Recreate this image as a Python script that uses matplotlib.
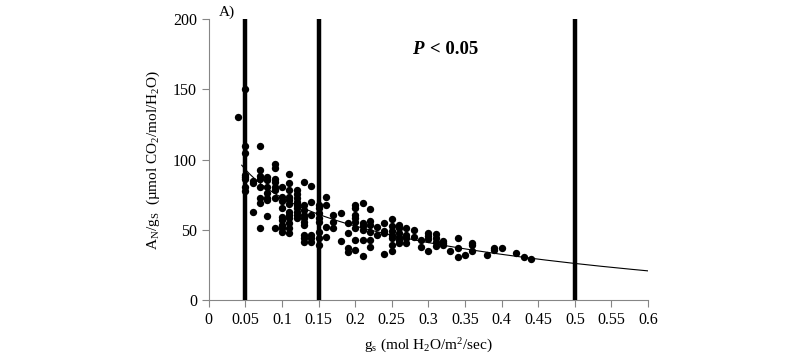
import numpy as np
import matplotlib
matplotlib.use('Agg')
import matplotlib.pyplot as plt

plt.rcParams['font.family'] = ['Liberation Serif', 'DejaVu Serif']
plt.rcParams['mathtext.fontset'] = 'custom'
plt.rcParams['mathtext.rm'] = 'Liberation Serif'
plt.rcParams['mathtext.it'] = 'Liberation Serif:italic'
plt.rcParams['mathtext.bf'] = 'Liberation Serif:bold'

# stomatal conductance columns (mol H2O/m2/sec)
gs_cols = [0.04, 0.05, 0.06, 0.07, 0.08, 0.09, 0.10, 0.11, 0.12, 0.13,
           0.14, 0.15, 0.16, 0.17, 0.18, 0.19, 0.20, 0.21, 0.22, 0.23,
           0.24, 0.25, 0.26, 0.27, 0.28, 0.29, 0.30, 0.31, 0.32, 0.33,
           0.34, 0.35, 0.36, 0.38, 0.39, 0.40, 0.42, 0.43, 0.44]

# AN/gs values read for each column
ratio_cols = [
    [130],
    [150, 110, 105, 89, 87.5, 86, 80.6, 77.8],
    [85, 83, 63],
    [110, 92.5, 88, 86, 80.6, 72.6, 69, 51],
    [87.8, 85.4, 80.2, 76.4, 73, 71, 59.8],
    [96.8, 94.2, 86, 84.2, 80.2, 78.3, 73, 51.5],
    [80.2, 73.5, 70.5, 65.3, 59.3, 57, 53.4, 51, 48.6],
    [89.7, 83.5, 78.3, 73.5, 71.2, 68.3, 62.9, 60.5, 58.1, 54.6, 51, 47.5],
    [78.3, 75.4, 72.4, 70, 67.6, 65.3, 62.9, 60.5, 58.1],
    [84.2, 67.6, 64, 60.5, 58.1, 55.7, 53.4, 46.3, 43.9, 41.5],
    [81.1, 70, 60.5, 46.3, 43.9, 41.5],
    [67.6, 65.3, 61.7, 58.1, 55.7, 48.6, 43.9, 39],
    [73.5, 67.6, 52.2, 45],
    [60.5, 55.7, 51],
    [62, 42],
    [54.6, 47.9, 36.8, 34.4],
    [67.6, 65.3, 60.5, 58.1, 55.7, 51, 42.7, 35.6],
    [68.8, 54.6, 52.7, 49.8, 42.7, 31.3],
    [64.5, 56.4, 53.4, 48.6, 42.7, 37.9],
    [52, 46],
    [54.6, 49.1, 47.5, 32.7],
    [57.4, 52.7, 49.1, 46.3, 43.9, 39, 34.9],
    [53.4, 51, 47.9, 45, 42.7, 40.4],
    [51, 46.3, 43.9, 40.4],
    [49.8, 45],
    [42.7, 37.9],
    [47.5, 45.6, 43.2, 34.9],
    [47, 43.9, 41.5, 38.4],
    [42.2, 40.4, 39.1],
    [34.9],
    [43.9, 36.8, 30.8],
    [32],
    [40.8, 39.1, 34.9],
    [32],
    [37.2, 36],
    [37.2],
    [33.2],
    [30.4],
    [29],
]

# logarithmic trend line: y = a + b*ln(x)
trend_a = 5.98
trend_b = -29.03
trend_range = (0.045, 0.6)

# thresholds marked with vertical lines
thresholds = [0.05, 0.15, 0.5]

x_ticks = np.arange(0, 0.601, 0.05)
x_labels = ['0', '0.05', '0.1', '0.15', '0.2', '0.25', '0.3', '0.35', '0.4',
            '0.45', '0.5', '0.55', '0.6']
y_ticks = [0, 50, 100, 150, 200]

gs = np.concatenate([[g] * len(v) for g, v in zip(gs_cols, ratio_cols)])
ratio = np.concatenate(ratio_cols)

fig = plt.figure(figsize=(8.03, 3.59), dpi=100)
ax = fig.add_axes([0.260, 0.164, 0.547, 0.783])

for t in thresholds:
    ax.axvline(t, color='black', linewidth=3.2, zorder=3)

ax.scatter(gs, ratio, s=28, color='black', zorder=4, linewidths=0)

xx = np.linspace(trend_range[0], trend_range[1], 200)
ax.plot(xx, trend_a + trend_b * np.log(xx), color='black', linewidth=0.8, zorder=5)

ax.set_xlim(0, 0.6)
ax.set_ylim(0, 200)
ax.set_xticks(x_ticks)
ax.set_xticklabels(x_labels)
ax.set_yticks(y_ticks)

for s in ['top', 'right']:
    ax.spines[s].set_visible(False)
for s in ['left', 'bottom']:
    ax.spines[s].set_color('#868686')
    ax.spines[s].set_linewidth(0.8)
ax.tick_params(axis='both', colors='#868686', labelcolor='black', labelsize=11.5,
               length=5, width=0.8)

ax.set_xlabel(r'g$_\mathregular{s}$ (mol H$_\mathregular{2}$O/m$^\mathregular{2}$/sec)',
              fontsize=11, labelpad=6)
ax.set_ylabel(r'A$_\mathregular{N}$/g$_\mathregular{S}$  (µmol CO$_\mathregular{2}$/mol/H$_\mathregular{2}$O)',
              fontsize=11, labelpad=8)

ax.text(0.023, 1.0, 'A)', transform=ax.transAxes, fontsize=11, va='bottom', ha='left')
ax.text(0.49, 0.89, 'P', transform=ax.transAxes, fontsize=13.5,
        ha='right', va='center', fontweight='bold', fontstyle='italic')
ax.text(0.503, 0.89, '< 0.05', transform=ax.transAxes, fontsize=13.5,
        ha='left', va='center', fontweight='bold')

fig.savefig('out.png', dpi=100)
